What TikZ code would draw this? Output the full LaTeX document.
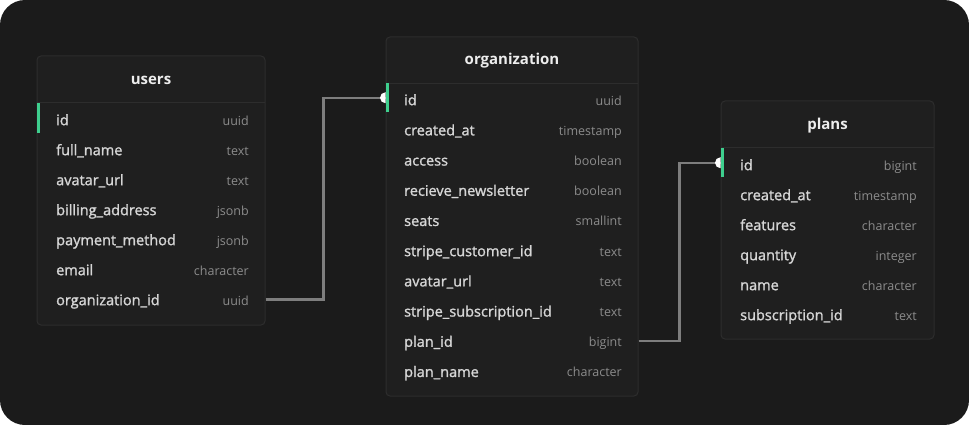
\documentclass[tikz,border=0pt]{standalone}
\usepackage{fontspec}
\setmainfont{Open Sans}
\newfontfamily\fieldfont{Open Sans}[FakeBold=1.4]
\usetikzlibrary{positioning}
\definecolor{canvasbg}{HTML}{1B1B1B}
\definecolor{tablebg}{HTML}{1F1F1F}
\definecolor{tableline}{HTML}{2D2D2D}
\definecolor{fieldtxt}{HTML}{D6D6D6}
\definecolor{typetxt}{HTML}{8C8C8C}
\definecolor{titletxt}{HTML}{EDEDED}
\definecolor{pkgreen}{HTML}{3ECF8E}
\definecolor{linkgrey}{HTML}{7E7E7E}

\tikzset{
  tbl/.style={draw=tableline, fill=tablebg, rounded corners=4pt, line width=1pt, inner sep=0pt},
  ttitle/.style={font=\bfseries\fontsize{15}{17}\selectfont, text=titletxt, inner sep=0pt},
  fname/.style={font=\fieldfont\fontsize{14.5}{16}\selectfont, text=fieldtxt, anchor=mid west, inner sep=0pt},
  ftype/.style={font=\fontsize{12.5}{14}\selectfont, text=typetxt, anchor=mid east, inner sep=0pt},
  sepline/.style={draw=tableline, line width=1pt},
  fk/.style={draw=linkgrey, line width=2.2pt},
}

\begin{document}
\begin{tikzpicture}[x=1pt,y=-1pt]
\useasboundingbox (0,0) rectangle (969,425);
\fill[white] (0,0) rectangle (969,425);
\fill[canvasbg, rounded corners=25pt] (0,0) rectangle (969,425);

% users
\node[tbl, minimum width=228, minimum height=269] (users) at (151,190.5) {};
\node[ttitle] (users-title) at (151,80) {users};
\draw[sepline] (37,103) -- (265,103);
\foreach \f/\t [count=\i from 0] in {id/uuid, full\_name/text, avatar\_url/text,
  billing\_address/jsonb, payment\_method/jsonb, email/character, organization\_id/uuid} {
  \node[fname] (u-\i-n) at (56,122.5+30*\i) {\f};
  \node[ftype] (u-\i-t) at (249,122.5+30*\i) {\t};
}

% organization
\node[tbl, minimum width=252, minimum height=359] (org) at (512,216.5) {};
\node[ttitle] (org-title) at (512,61) {organization};
\draw[sepline] (386,84) -- (638,84);
\foreach \f/\t [count=\i from 0] in {id/uuid, created\_at/timestamp, access/boolean,
  recieve\_newsletter/boolean, seats/smallint, stripe\_customer\_id/text, avatar\_url/text,
  stripe\_subscription\_id/text, plan\_id/bigint, plan\_name/character} {
  \node[fname] (o-\i-n) at (404,102.5+30.2*\i) {\f};
  \node[ftype] (o-\i-t) at (622,102.5+30.2*\i) {\t};
}

% plans
\node[tbl, minimum width=213, minimum height=238] (plans) at (827.5,220) {};
\node[ttitle] (plans-title) at (827.5,126) {plans};
\draw[sepline] (721,148) -- (934,148);
\foreach \f/\t [count=\i from 0] in {id/bigint, created\_at/timestamp, features/character,
  quantity/integer, name/character, subscription\_id/text} {
  \node[fname] (p-\i-n) at (740,167.5+30*\i) {\f};
  \node[ftype] (p-\i-t) at (917,167.5+30*\i) {\t};
}

% links
\draw[fk] ([yshift=2pt]users.east |- u-6-n) -- ++(58,0) |- ([yshift=2pt]org.west |- o-0-n);
\draw[fk] ([yshift=2pt]org.east |- o-8-n) -- ++(41,0) |- ([yshift=2pt]plans.west |- p-0-n);

% end caps
\begin{scope}
  \clip (org.north west) rectangle ([xshift=-9pt]org.south west);
  \fill[white] ([yshift=2pt]org.west |- o-0-n) circle[radius=5.5];
\end{scope}
\begin{scope}
  \clip (plans.north west) rectangle ([xshift=-9pt]plans.south west);
  \fill[white] ([yshift=2pt]plans.west |- p-0-n) circle[radius=5.5];
\end{scope}

% primary keys
\fill[pkgreen] (users.west |- u-0-n) ++(0.5,-17) rectangle ++(3,30);
\fill[pkgreen] (org.west |- o-0-n) ++(0.5,-16.5) rectangle ++(3,29);
\fill[pkgreen] (plans.west |- p-0-n) ++(0.5,-16.5) rectangle ++(3,29);
\end{tikzpicture}
\end{document}
